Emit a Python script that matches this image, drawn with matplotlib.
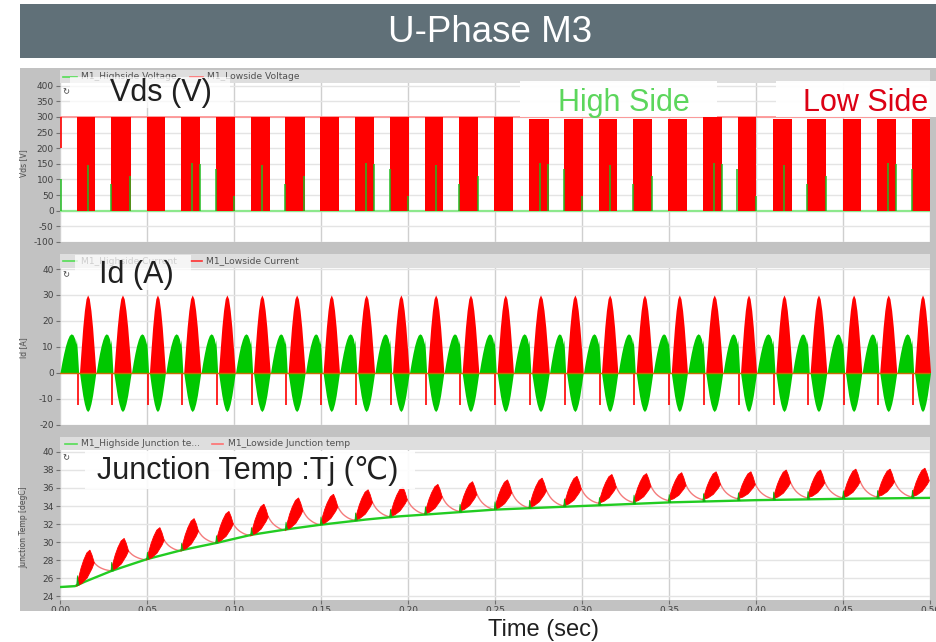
import matplotlib.pyplot as plt
from matplotlib.patches import Rectangle
import numpy as np

plt.rcParams['axes.unicode_minus'] = False

W, H = 937, 642

# ---------------- data ----------------
# low-side switching windows [s], one per 20 ms electrical period
block_start = [0.0096, 0.0293, 0.0498, 0.0695, 0.0895, 0.1096, 0.1295, 0.1496, 0.1695, 0.1895,
               0.2096, 0.2295, 0.2496, 0.2695, 0.2895, 0.3096, 0.3295, 0.3497, 0.3695, 0.3895,
               0.4098, 0.4295, 0.4498, 0.4695, 0.4895]
block_end = [0.0203, 0.0406, 0.0603, 0.0806, 0.1004, 0.1205, 0.1406, 0.1603, 0.1805, 0.2004,
             0.2203, 0.2404, 0.2603, 0.2809, 0.3004, 0.3203, 0.3404, 0.3603, 0.3806, 0.4000,
             0.4205, 0.4404, 0.4605, 0.4806, 0.5000]

# Vds panel
vds_dc = 300
vds_block_top = [300, 300, 300, 300, 300, 300, 300, 300, 300, 300, 300, 300, 300,
                 292, 292, 292, 292, 292, 300, 300, 292, 292, 292, 292, 292]
vds_start_step = [200, 300]
vds_hs_spike_t = [0.0003, 0.0163, 0.0293, 0.0404, 0.0760, 0.0803, 0.0895, 0.1002, 0.1163,
                  0.1293, 0.1402, 0.1759, 0.1803, 0.1895, 0.2002, 0.2163, 0.2295, 0.2402,
                  0.2761, 0.2805, 0.2895, 0.3002, 0.3161, 0.3295, 0.3404, 0.3759, 0.3802,
                  0.3893, 0.4000, 0.4161, 0.4293, 0.4402, 0.4760, 0.4805, 0.4895]
vds_hs_spike_v = [100, 146, 85, 110, 152, 149, 135, 46, 146, 85, 110, 152, 149, 135, 46,
                  146, 85, 110, 152, 149, 135, 46, 146, 85, 110, 152, 149, 135, 46, 146,
                  85, 110, 152, 149, 135]

# Id panel: lobe envelopes (phase 0..1 across each half period)
id_hs_pos_phase = [0, 0.1, 0.2, 0.3, 0.4, 0.5, 0.6, 0.7, 0.8, 0.85, 0.88, 0.92, 0.96, 1.0]
id_hs_pos_env = [0, 4.0, 7.5, 10.5, 12.8, 14.4, 15.0, 14.6, 13.0, 11.0, 12.8, 9.5, 5.0, 0]
id_phase = [0, 0.1, 0.2, 0.3, 0.4, 0.5, 0.6, 0.7, 0.8, 0.9, 1.0]
id_ls_env = [0, 9.0, 17.5, 24.0, 28.5, 30.0, 28.5, 24.0, 17.5, 9.0, 0]
id_hs_neg_env = [0, -4.5, -8.8, -12.0, -14.2, -15.0, -14.2, -12.0, -8.8, -4.5, 0]
id_ls_spike = -12.4

# Junction temperature panel
tj_high_t = [0.0, 0.0086, 0.0144, 0.0297, 0.05, 0.07, 0.09, 0.11, 0.13, 0.149, 0.176,
             0.195, 0.21, 0.25, 0.30, 0.35, 0.40, 0.45, 0.50]
tj_high = [25.0, 25.1, 25.6, 26.8, 28.1, 29.1, 29.9, 30.8, 31.4, 31.9, 32.5,
           32.85, 33.05, 33.6, 34.0, 34.4, 34.65, 34.8, 34.9]
tj_hs_spike = [1.1, 1.0, 0.8, 0.8, 0.85, 0.85, 0.85, 0.9, 0.9, 0.9, 0.9, 0.9, 0.9,
               0.9, 0.9, 0.9, 1.0, 0.9, 0.9, 0.9, 0.9, 0.9, 0.9, 0.9, 0.9]
tj_low_valley = [25.1, 26.8, 28.0, 29.0, 29.9, 30.7, 31.3, 31.9, 32.4, 32.8, 33.1, 33.4, 33.6,
                 33.8, 34.0, 34.3, 34.4, 34.6, 34.7, 34.8, 34.8, 34.9, 34.9, 35.0, 35.0]
tj_low_peak = [29.1, 30.4, 31.6, 32.6, 33.4, 34.2, 34.9, 35.3, 35.8, 36.1, 36.4, 36.7, 36.9,
               37.1, 37.3, 37.5, 37.6, 37.7, 37.8, 37.8, 38.0, 38.0, 38.1, 38.1, 38.2]
tj_low_fin_end = [27.7, 29.0, 30.2, 31.2, 32.0, 32.8, 33.5, 33.9, 34.4, 34.7, 35.0, 35.3, 35.5,
                  35.7, 35.9, 36.1, 36.2, 36.3, 36.4, 36.4, 36.6, 36.6, 36.7, 36.7, 36.8]
fin_rise_dt = [0, 0.0012, 0.0025, 0.004, 0.0058, 0.0076]
fin_rise_frac = [0, 0.25, 0.5, 0.72, 0.92, 1.0]
fin_fall_dt = [0.0076, 0.0088, 0.0101]
fin_fall_frac = [1.0, 0.6, 0.0]
fin_low_dt = [0, 0.003, 0.006, 0.0088, 0.0101]
fin_low_frac = [0, 0.12, 0.35, 0.75, 1.0]
decay_t = [0, 0.1, 0.2, 0.3, 0.4, 0.5, 0.6, 0.7, 0.8, 0.9, 1.0]
decay_frac = [1, 0.78, 0.6, 0.46, 0.35, 0.26, 0.18, 0.12, 0.07, 0.03, 0]

x_ticks = [0.00, 0.05, 0.10, 0.15, 0.20, 0.25, 0.30, 0.35, 0.40, 0.45, 0.50]

RED = '#ff0000'
GREEN = '#00c800'
SANS = ['Liberation Sans', 'DejaVu Sans']


def fx(x):
    return x / W


def fy(y):
    return 1 - y / H


def rect(x0, y0, x1, y1, color, z, alpha=1.0):
    fig.add_artist(Rectangle((fx(x0), fy(y1)), (x1 - x0) / W, (y1 - y0) / H,
                             facecolor=color, edgecolor='none', alpha=alpha, zorder=z))


def px_axes(x0, y0, x1, y1):
    return fig.add_axes([fx(x0), fy(y1), (x1 - x0) / W, (y1 - y0) / H])


def style(ax, yticks, ylim, xlabels=False):
    ax.set_xlim(0, 0.5)
    ax.set_ylim(*ylim)
    ax.set_yticks(yticks)
    ax.set_xticks(x_ticks)
    for s in ax.spines.values():
        s.set_visible(False)
    ax.grid(True, axis='y', color='#e4e4e4', lw=1)
    ax.grid(True, axis='x', color='#cfcfcf', lw=1)
    ax.set_axisbelow(True)
    ax.tick_params(direction='out', length=3, width=0.8, color='#707070',
                   labelsize=6.5, labelcolor='#404040', pad=1.5)
    if xlabels:
        ax.set_xticklabels(['%.2f' % v for v in x_ticks])
    else:
        ax.tick_params(axis='x', length=0, labelbottom=False)


def legend_strip(y0, y1, items):
    rect(60, y0, 930, y1, '#dedede', 0.5)
    yc = (y0 + y1) / 2
    for lx0, lx1, col, tx, label in items:
        fig.add_artist(plt.Line2D([fx(lx0), fx(lx1)], [fy(yc), fy(yc)], color=col, lw=1.2, zorder=1))
        fig.text(fx(tx), fy(yc), label, fontsize=6.6, color='#505050', va='center', zorder=1)


fig = plt.figure(figsize=(W / 100, H / 100), dpi=100)

# title bar and screenshot frame
rect(20, 4, 937, 58, '#607078', 0)
fig.text(fx(490), fy(42), 'U-Phase M3', color='white', fontsize=26.5, ha='center', va='baseline',
         family=SANS)
rect(20, 68, 937, 611, '#c2c2c2', -2)

# ---------------- Vds ----------------
ax1 = px_axes(60, 83, 930, 242)
style(ax1, range(-100, 401, 50), (-100, 408.6))
ax1.plot([0, 0.5], [0, 0], color='#8de88d', lw=1.6, zorder=2)
ax1.plot([0, 0.5], [vds_dc, vds_dc], color='#ff8c8c', lw=1.2, zorder=2)
for s, e, top in zip(block_start, block_end, vds_block_top):
    ax1.fill_between([s, e], 0, top, color=RED, lw=0, zorder=3)
ax1.vlines(0.0004, vds_start_step[0], vds_start_step[1], color=RED, lw=1.2, zorder=3)
ax1.vlines(vds_hs_spike_t, 0, vds_hs_spike_v, color='#22bb22', lw=1.1, zorder=4)

# ---------------- Id ----------------
ax2 = px_axes(60, 268, 930, 424.5)
style(ax2, range(-20, 41, 10), (-20, 40.4))
prev_end = 0.0
for s, e in zip(block_start, block_end):
    a, b = prev_end, s + 0.0011
    ax2.fill_between(a + np.array(id_hs_pos_phase) * (b - a), 0, id_hs_pos_env,
                     color=GREEN, lw=0, zorder=3)
    a, b = s + 0.0016, e + 0.0003
    tt = a + np.array(id_phase) * (b - a)
    ax2.fill_between(tt, 0, id_ls_env, color=RED, lw=0, zorder=3)
    ax2.fill_between(tt, 0, id_hs_neg_env, color=GREEN, lw=0, zorder=3)
    ax2.vlines(s + 0.0005, id_ls_spike, 0, color=RED, lw=1.2, zorder=4)
    prev_end = e + 0.0005
ax2.plot([0, 0.5], [0, 0], color='#c86e00', lw=1.0, zorder=5)

# ---------------- Junction temperature ----------------
ax3 = px_axes(60, 450, 930, 600)
style(ax3, range(24, 41, 2), (23.56, 40.22), xlabels=True)
# low side: flat start, then thin cooling lines between fins
ax3.plot([0, block_start[0]], [tj_high[0], tj_low_valley[0]], color='#f47c7c', lw=1.0, zorder=2)
for k in range(len(block_start) - 1):
    t0 = block_start[k] + fin_fall_dt[-1]
    t1 = block_start[k + 1]
    v1 = tj_low_valley[k + 1]
    td = t0 + np.array(decay_t) * (t1 - t0)
    yd = v1 + np.array(decay_frac) * (tj_low_fin_end[k] - v1)
    ax3.plot(td, yd, color='#f47c7c', lw=1.0, zorder=2)
ax3.plot(tj_high_t, tj_high, color='#22cc22', lw=1.7, zorder=3)
for s, v, p, e in zip(block_start, tj_low_valley, tj_low_peak, tj_low_fin_end):
    tu = np.r_[s + np.array(fin_rise_dt), s + np.array(fin_fall_dt[1:])]
    yu = np.r_[v + np.array(fin_rise_frac) * (p - v), e + np.array(fin_fall_frac[1:]) * (p - e)]
    tl = s + np.array(fin_low_dt)
    yl = v + np.array(fin_low_frac) * (e - v)
    ax3.fill(np.r_[tu, tl[::-1]], np.r_[yu, yl[::-1]], color=RED, lw=0.6, zorder=4)
for s, h in zip(block_start, tj_hs_spike):
    g = np.interp(s, tj_high_t, tj_high)
    ax3.fill([s, s + 0.0004, s + 0.0008, s + 0.0014], [g, g + h, g + 0.4 * h, g],
             color='#10b010', lw=0.5, zorder=5)

# legends strips
legend_strip(70, 83, [(63, 77, '#55dd55', 81, 'M1_Highside Voltage'),
                      (190, 203, '#ff7070', 207, 'M1_Lowside Voltage')])
legend_strip(254, 268, [(63, 77, '#55dd55', 81, 'M1_Highside Current'),
                        (191, 202, '#ff3030', 206, 'M1_Lowside Current')])
legend_strip(437, 450, [(65, 77, '#55dd55', 81, 'M1_Highside Junction te...'),
                        (212, 223, '#ff7070', 228, 'M1_Lowside Junction temp')])

# small reset icons in the panel corners
for y in (92, 275, 458):
    fig.text(fx(66), fy(y), '\u21bb', fontsize=6, color='#404040', ha='center', va='center',
             zorder=7)

# y axis labels
for y, label in [(163, 'Vds [V]'), (348, 'Id [A]'), (527, 'Junction Temp [degC]')]:
    fig.text(fx(24), fy(y), label, rotation=90, fontsize=5.5, color='#505050',
             ha='center', va='center')

# overlay boxes and annotations
rect(70, 77, 230, 108, 'white', 5, 0.72)
fig.text(fx(110), fy(100.7), 'Vds (V)', fontsize=22, family=SANS, color='#202020', zorder=6)
rect(75, 255, 191, 290, 'white', 5, 0.72)
fig.text(fx(99), fy(283.3), 'Id (A)', fontsize=22, family=SANS, color='#202020', zorder=6)
rect(85, 451, 415, 489, 'white', 5, 0.9)
fig.text(fx(97), fy(479.3), 'Junction Temp :Tj (\u2103)', fontsize=22, family=SANS,
         color='#202020', zorder=6)
rect(520, 81, 717, 117, 'white', 5, 0.95)
fig.text(fx(558), fy(110.7), 'High Side', fontsize=22, family=SANS, color='#5cd65c', zorder=6)
rect(776, 81, 937, 117, 'white', 5, 0.95)
fig.text(fx(803), fy(110.7), 'Low Side', fontsize=22, family=SANS, color='#dc0014', zorder=6)

# screenshot crop edge below the tick labels
rect(0, 610.5, 937, 642, 'white', 4)
fig.text(fx(543), fy(636), 'Time (sec)', fontsize=17, family=SANS, color='#202020',
         ha='center', va='baseline', zorder=6)

fig.savefig('out.png', dpi=100)
